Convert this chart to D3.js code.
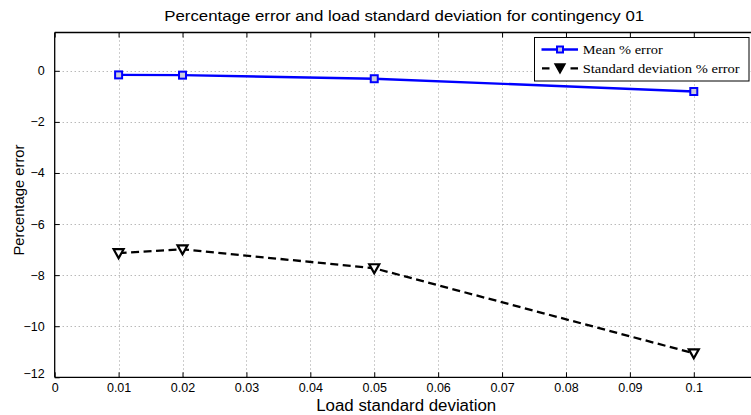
<!DOCTYPE html>
<html><head><meta charset="utf-8">
<script src="https://cdn.jsdelivr.net/npm/d3@7"></script>
<style>
html,body{margin:0;padding:0;background:#fff;overflow:hidden;}
svg{display:block;}
</style></head>
<body>
<svg id="chart" width="751" height="415"></svg>
<script>
const xValues = [0.01, 0.02, 0.05, 0.1];
const meanError = [-0.16, -0.17, -0.31, -0.81];
const stdError = [-7.14, -6.99, -7.73, -11.06];
const xTicks = [0, 0.01, 0.02, 0.03, 0.04, 0.05, 0.06, 0.07, 0.08, 0.09, 0.1];
const yTicks = [-12, -10, -8, -6, -4, -2, 0];
const seriesNames = ["Mean % error", "Standard deviation % error"];
const titleText = "Percentage error and load standard deviation for contingency 01";
const xLabel = "Load standard deviation";
const yLabel = "Percentage error";

const svg = d3.select("#chart");
const pL = 54.7, pT = 32.5, pB = 377.3;
const x = d3.scaleLinear().domain([0, 0.11]).range([pL, pL + 703]);
const y = d3.scaleLinear().domain([-12, 1.5]).range([pB, pT]);
const pR = x(0.11);
const cx = (pL + pR) / 2;
const sans = "Liberation Sans, Arial, Helvetica, sans-serif";
const serif = "Liberation Serif, Times New Roman, serif";

svg.append("rect").attr("width", 751).attr("height", 415).attr("fill", "#fff");

// grid
const grid = svg.append("g").attr("stroke", "#9a9a9a").attr("stroke-width", 1).attr("stroke-dasharray", "1,3");
grid.selectAll("line.v").data(xTicks.slice(1)).enter().append("line")
  .attr("x1", d => Math.round(x(d)) + 0.5).attr("x2", d => Math.round(x(d)) + 0.5)
  .attr("y1", pT).attr("y2", pB);
grid.selectAll("line.h").data(yTicks.slice(1)).enter().append("line")
  .attr("y1", d => Math.round(y(d)) + 0.5).attr("y2", d => Math.round(y(d)) + 0.5)
  .attr("x1", pL).attr("x2", pR);

// axes
const xAxis = d3.axisBottom(x).tickValues(xTicks).tickFormat(d => d === 0 ? "0" : String(+d.toFixed(2))).tickSize(-5).tickPadding(6);
const yAxis = d3.axisLeft(y).tickValues(yTicks).tickFormat(d => d < 0 ? "\u2212" + Math.abs(d) : String(d)).tickSize(-5).tickPadding(10);
const gx = svg.append("g").attr("transform", `translate(0,${pB})`).call(xAxis);
const gy = svg.append("g").attr("transform", `translate(${pL},0)`).call(yAxis);
const gxt = svg.append("g").attr("transform", `translate(0,${pT})`).call(d3.axisTop(x).tickValues(xTicks).tickSize(-5).tickFormat(""));
[gx, gy, gxt].forEach(g => {
  g.select(".domain").attr("stroke", "#000").attr("stroke-width", 1.3);
  g.selectAll(".tick line").attr("stroke", "#000").attr("stroke-width", 1);
  g.selectAll("text").attr("font-family", sans).attr("font-size", 12.5).attr("fill", "#000");
});
gx.select(".domain").attr("d", `M${pL},0H${pR}`);
gxt.select(".domain").attr("d", `M${pL},0H${pR}`);
gy.select(".domain").attr("d", `M0,${pB}V${pT}`);
gy.selectAll(".tick").filter(d => d === -12).select("text").attr("dy", "0.0em");

// mean line
const line = d3.line().x((d, i) => x(xValues[i])).y(d => y(d));
svg.append("path").datum(meanError).attr("d", line).attr("fill", "none").attr("stroke", "#0000ff").attr("stroke-width", 2.4);
svg.selectAll("rect.m").data(meanError).enter().append("rect")
  .attr("x", (d, i) => x(xValues[i]) - 3.5).attr("y", d => y(d) - 3.5)
  .attr("width", 7).attr("height", 7).attr("fill", "#ccd").attr("stroke", "#0000ff").attr("stroke-width", 2);

// std line
svg.append("path").datum(stdError).attr("d", line).attr("fill", "none").attr("stroke", "#000").attr("stroke-width", 2.3).attr("stroke-dasharray", "8,4.5");
const tri = (px, py) => `M${px - 5},${py - 4}L${px + 5},${py - 4}L${px},${py + 5}Z`;
svg.selectAll("path.t").data(stdError).enter().append("path")
  .attr("d", (d, i) => tri(x(xValues[i]), y(d))).attr("fill", "#fff").attr("stroke", "#000").attr("stroke-width", 2.2);

// legend
const lg = svg.append("g");
lg.append("rect").attr("x", 534.5).attr("y", 37.5).attr("width", 214.5).attr("height", 43.5).attr("fill", "#fff").attr("stroke", "#000").attr("stroke-width", 1);
lg.append("line").attr("x1", 541.5).attr("x2", 578).attr("y1", 49.5).attr("y2", 49.5).attr("stroke", "#0000ff").attr("stroke-width", 2.4);
lg.append("rect").attr("x", 557).attr("y", 46.5).attr("width", 6).attr("height", 6).attr("fill", "#ccd").attr("stroke", "#0000ff").attr("stroke-width", 2);
lg.append("line").attr("x1", 542).attr("x2", 578).attr("y1", 68.3).attr("y2", 68.3).attr("stroke", "#000").attr("stroke-width", 2.3).attr("stroke-dasharray", "7.5,21,7.5");
lg.append("path").attr("d", tri(560, 68)).attr("fill", "#000").attr("stroke", "#000").attr("stroke-width", 1.5);
lg.selectAll("text").data(seriesNames).enter().append("text")
  .attr("x", 582.7).attr("y", (d, i) => 54.3 + i * 19).text(d => d)
  .attr("textLength", (d, i) => [80, 157][i]).attr("lengthAdjust", "spacingAndGlyphs")
  .attr("font-family", serif).attr("font-size", 13.5).attr("fill", "#000");

// titles
svg.append("text").attr("x", cx - 2).attr("y", 21).attr("text-anchor", "middle").text(titleText)
  .attr("textLength", 480).attr("lengthAdjust", "spacingAndGlyphs")
  .attr("font-family", sans).attr("font-size", 14).attr("fill", "#000");
svg.append("text").attr("x", cx).attr("y", 411).attr("text-anchor", "middle").text(xLabel)
  .attr("textLength", 180).attr("lengthAdjust", "spacingAndGlyphs")
  .attr("font-family", sans).attr("font-size", 16).attr("fill", "#000");
svg.append("text").attr("transform", "translate(23.5,200) rotate(-90)").attr("text-anchor", "middle").text(yLabel)
  .attr("font-family", sans).attr("font-size", 14.8).attr("fill", "#000");
</script>
</body></html>
